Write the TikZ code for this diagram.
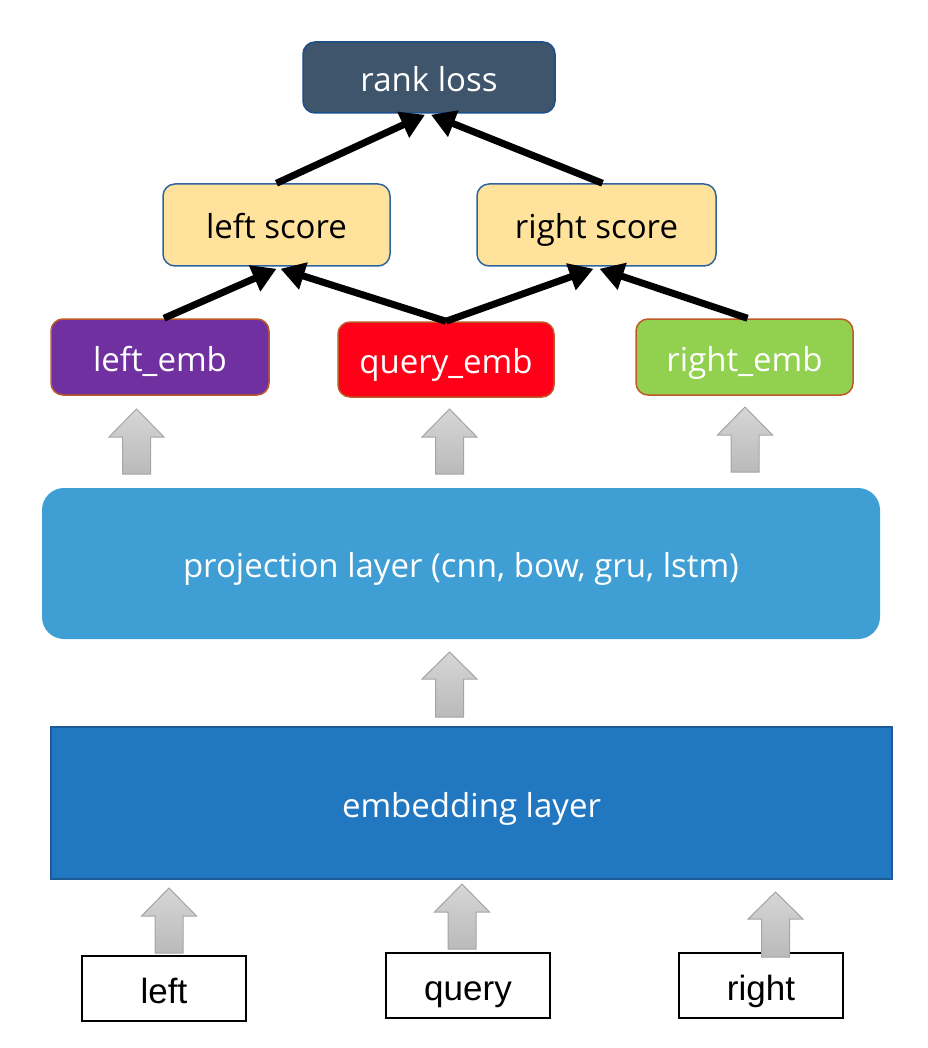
\documentclass[tikz,border=0pt]{standalone}
\usepackage{fontspec}
\setmainfont{Open Sans}
\newfontfamily\arialfont{Liberation Sans}
\usetikzlibrary{arrows.meta}
\definecolor{rankfill}{RGB}{63,85,108}
\definecolor{rankdraw}{RGB}{31,78,140}
\definecolor{scorefill}{RGB}{255,226,155}
\definecolor{scoredraw}{RGB}{46,100,160}
\definecolor{purpleemb}{RGB}{112,48,160}
\definecolor{redemb}{RGB}{255,0,24}
\definecolor{greenemb}{RGB}{146,208,80}
\definecolor{embdraw}{RGB}{190,90,40}
\definecolor{projfill}{RGB}{63,158,212}
\definecolor{embfill}{RGB}{34,119,193}
\definecolor{embborder}{RGB}{30,90,150}
\definecolor{graytop}{RGB}{214,214,214}
\definecolor{graybot}{RGB}{186,186,186}
\definecolor{grayedge}{RGB}{165,165,165}
\tikzset{
  txt/.style={font=\fontsize{33}{38}\selectfont, text height=36pt, text depth=8pt},
  box/.style={txt, rounded corners=12pt, inner sep=0pt, line width=1.5pt, align=center},
  rankbox/.style={box, fill=rankfill, draw=rankdraw, text=white},
  scorebox/.style={box, fill=scorefill, draw=scoredraw, text=black},
  embbox/.style={box, draw=embdraw, text=white},
  layerbox/.style={txt, inner sep=0pt, text=white},
  inbox/.style={font=\arialfont\fontsize{35}{40}\selectfont, text height=35pt, text depth=6pt, draw=black, line width=2pt, inner sep=0pt, fill=white},
  conn/.style={line width=7pt, -{Triangle[length=24pt,width=27pt]}, black},
  blockarrow/.style={top color=graytop, bottom color=graybot, draw=grayedge, line width=1pt}
}
\newcommand{\grayup}[4]{% x, ytop, ybase, ybottom
  \shade[blockarrow] (#1,#2) -- (#1+27.5,#3) -- (#1+14,#3) -- (#1+14,#4) -- (#1-14,#4) -- (#1-14,#3) -- (#1-27.5,#3) -- cycle;}
\begin{document}
\begin{tikzpicture}[x=1pt,y=-1pt]
\useasboundingbox (0,0) rectangle (927,1048);
% nodes
\node[rankbox, minimum width=252pt, minimum height=71pt] (rank) at (429,77.5) {rank loss};
\node[scorebox, minimum width=227pt, minimum height=82pt] (ls) at (276.5,225) {left score};
\node[scorebox, minimum width=239pt, minimum height=82pt] (rs) at (596.5,225) {right score};
\node[embbox, fill=purpleemb, minimum width=218pt, minimum height=76pt] (le) at (160,357) {left\_emb};
\node[embbox, fill=redemb, minimum width=216pt, minimum height=75pt] (qe) at (446,359.5) {query\_emb};
\node[embbox, fill=greenemb, minimum width=217pt, minimum height=76pt] (re) at (744.5,357) {right\_emb};
\node[layerbox, fill=projfill, rounded corners=22pt, minimum width=838pt, minimum height=151pt] (proj) at (461,563.5) {projection layer (cnn, bow, gru, lstm)};
\node[layerbox, fill=embfill, draw=embborder, line width=2pt, minimum width=841pt, minimum height=152pt] (emb) at (471.5,803) {embedding layer};
\node[inbox, minimum width=164pt, minimum height=65pt] (inl) at (164,988.5) {left};
\node[inbox, minimum width=164pt, minimum height=65pt] (inq) at (468,985.5) {query};
\node[inbox, minimum width=164pt, minimum height=65pt] (inr) at (761,985.5) {right};
% black connectors
\draw[conn] (ls.north) -- ([xshift=-4pt,yshift=-1pt]rank.south);
\draw[conn] ([xshift=6pt]rs.north) -- ([xshift=2pt,yshift=-1pt]rank.south);
\draw[conn] ([xshift=4pt]le.north) -- ([yshift=-2pt]ls.south);
\draw[conn] (qe.north) -- ([xshift=4pt,yshift=-2pt]ls.south);
\draw[conn] (qe.north) -- ([xshift=-3pt,yshift=-2pt]rs.south);
\draw[conn] ([xshift=3pt]re.north) -- ([xshift=3pt,yshift=-2pt]rs.south);
% gray block arrows
\grayup{136.5}{409}{437}{474}
\grayup{449.5}{409}{437}{474}
\grayup{745}{407}{435}{472}
\grayup{449.5}{652}{679}{717}
\grayup{169}{888}{916}{953}
\grayup{462}{884}{912}{949}
\grayup{775.5}{892}{919}{957}
\end{tikzpicture}
\end{document}
